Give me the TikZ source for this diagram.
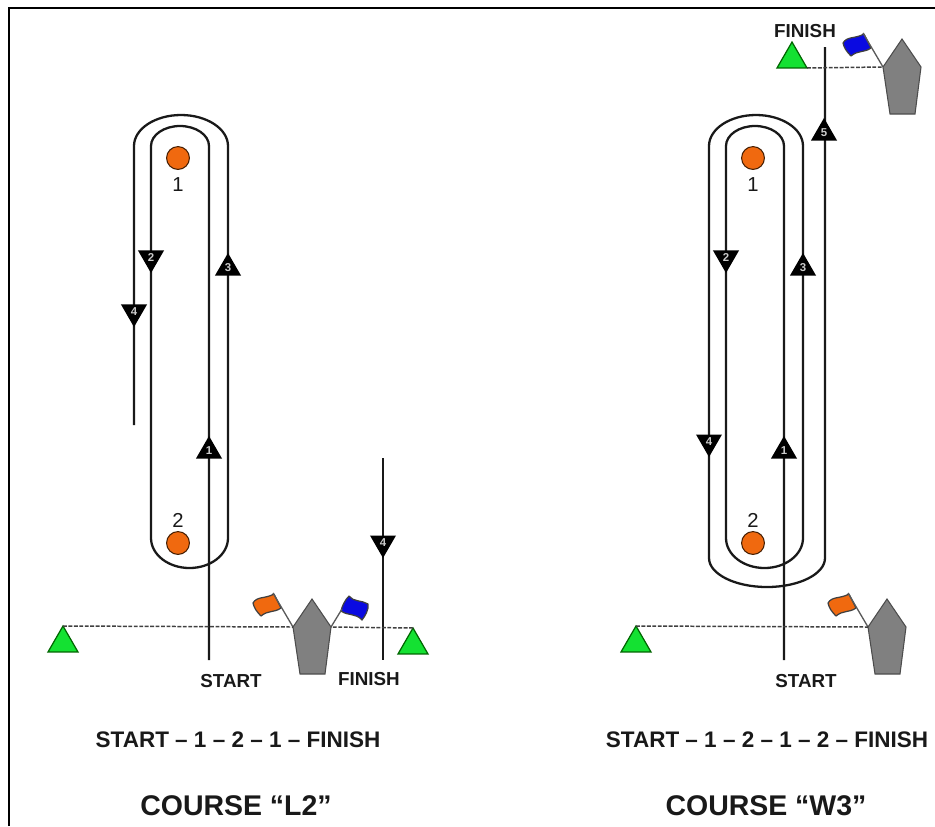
\documentclass[tikz,border=0pt]{standalone}
\usepackage{fontspec}
\setmainfont{Liberation Sans}
\usetikzlibrary{shapes.geometric}
\definecolor{FO}{RGB}{240,105,15}
\definecolor{FB}{RGB}{10,10,225}
\definecolor{FG}{RGB}{20,225,50}
\definecolor{GG}{RGB}{128,128,128}
\definecolor{DK}{RGB}{25,25,25}
\tikzset{
    TR/.style ={line width=1.3pt,draw=DK},
    AU/.style ={regular polygon,regular polygon sides=3,minimum size=17.1pt,inner sep=0pt,outer sep=0pt,fill=black,text=white!80!black,font=\bfseries\fontsize{6.5}{7}\selectfont},
    AD/.style ={AU,shape border rotate=180},
    GT/.style ={regular polygon,regular polygon sides=3,minimum size=19.7pt,inner sep=0pt,outer sep=0pt,draw=black!60!green,line width=.7pt,fill=FG},
    MK/.style ={circle,minimum size=13pt,inner sep=0pt,draw=black!70!FO,line width=.6pt,fill=FO},
    ML/.style ={text=DK,font=\fontsize{11.5}{12}\selectfont},
    LB/.style ={text=DK,font=\bfseries\fontsize{10.7}{12}\selectfont},
    RT/.style ={text=DK,font=\bfseries\fontsize{12.8}{14}\selectfont},
    CO/.style ={text=DK,font=\bfseries\fontsize{16.2}{18}\selectfont},
    LN/.style ={line width=.85pt,draw=black!75,dash pattern=on 2.2pt off .9pt},
    FL/.style ={line width=.7pt,draw=black!75,line join=round},
    PO/.style ={line width=.75pt,draw=black!65}}
\begin{document}
\begin{tikzpicture}[x=0.2mm,y=-0.2mm]
        \useasboundingbox (0,0) rectangle (935,826);
        \draw[line width=1.3pt] (9,826) --(9,8) --(935,8);
        \coordinate (SL) at (209,660);
        \coordinate (EL) at (134,425);
        \coordinate (SR) at (784,660);
        \coordinate (ER) at (825,47);
        \coordinate (FS) at (383,458);
        \coordinate (FE) at (383,660);
        \draw[TR] (SL) --(209,146) arc[start angle=0,end angle=-180,x radius=29,y radius=20]
            --(151,538) arc[start angle=180,end angle=0,x radius=38.5,y radius=30]
            --(228,146) arc[start angle=0,end angle=-180,x radius=47,y radius=31] --(EL);
        \draw[TR] (SR) --(784,146) arc[start angle=0,end angle=-180,x radius=29,y radius=20]
            --(726,538) arc[start angle=180,end angle=0,x radius=38.5,y radius=30]
            --(803,146) arc[start angle=0,end angle=-180,x radius=47,y radius=31]
            --(709,558) arc[start angle=180,end angle=0,x radius=58,y radius=29] --(ER);
        \draw[TR] (FS) --(FE);
        \foreach \x/\n in {0/A,575/B}{
            \node[MK] (M1\n) at (178+\x,158){};
            \node[MK] (M2\n) at (178+\x,543){};
            \node[ML] at (178+\x,185) {1};
            \node[ML] at (178+\x,520) {2};
            \node[AD] (A2\n) at (151+\x,258) {2};
            \node[AU] (A3\n) at (228+\x,268) {3};
            \node[AU] (A1\n) at (209+\x,451) {1};}
        \node[AD] (A4A) at (134,312) {4};
        \node[AD] (A4C) at (383,543) {4};
        \node[AD] (A4B) at (709,442) {4};
        \node[AU] (A5B) at (824,133) {5};
        \foreach \x/\y/\n/\c in {0/0/A/FO,575/0/B/FO,590/-560/C/FB}{
            \begin{scope}[shift={(\x,\y)}]
                \draw[line width=.6pt,draw=black!70,fill=GG] (293,627) --(312,599) --(331,627) --(325,674) --(300,674) --cycle;
                \coordinate (BL\n) at (293,627);
                \coordinate (BR\n) at (331,627);
                \coordinate (FP\n) at (273,593);
                \draw[FL,fill=\c] (274,594) --(281,608) .. controls (274,613) and (268,610) .. (261,616)
                    .. controls (257,612) and (254,608) .. (253,603) .. controls (257,596) and (265,599) .. (274,594) --cycle;
            \end{scope}
            \draw[PO] (BL\n) --(FP\n);}
        \coordinate (FQ) at (342,609);
        \draw[FL,fill=FB] (349,596) .. controls (353,602) and (362,600) .. (368,604)
            .. controls (369,610) and (365,616) .. (362,620) .. controls (356,613) and (348,616) .. (341,611)
            .. controls (342,606) and (345,600) .. (349,596) --cycle;
        \draw[PO] (BRA) --(FQ);
        \node[GT] (G1) at (63,643.3){};
        \node[GT] (G2) at (413,645.3){};
        \node[GT] (G3) at (636,643.3){};
        \node[GT] (G4) at (792,59.3){};
        \draw[LN] (G1.corner 1) --(BLA);
        \draw[LN] (G2.corner 1) --(BRA);
        \draw[LN] (G3.corner 1) --(BLB);
        \draw[LN] (G4.corner 3) --(BLC);
        \node[LB] at (231,681) {START};
        \node[LB] at (369,679) {FINISH};
        \node[LB] at (806,681) {START};
        \node[LB] at (805,31) {FINISH};
        \node[RT] at (238,740) {START – 1 – 2 – 1 – FINISH};
        \node[RT] at (767,740) {START – 1 – 2 – 1 – 2 – FINISH};
        \node[CO] at (236,806) {COURSE “L2”};
        \node[CO] at (766,806) {COURSE “W3”};
    \end{tikzpicture}
\end{document}
